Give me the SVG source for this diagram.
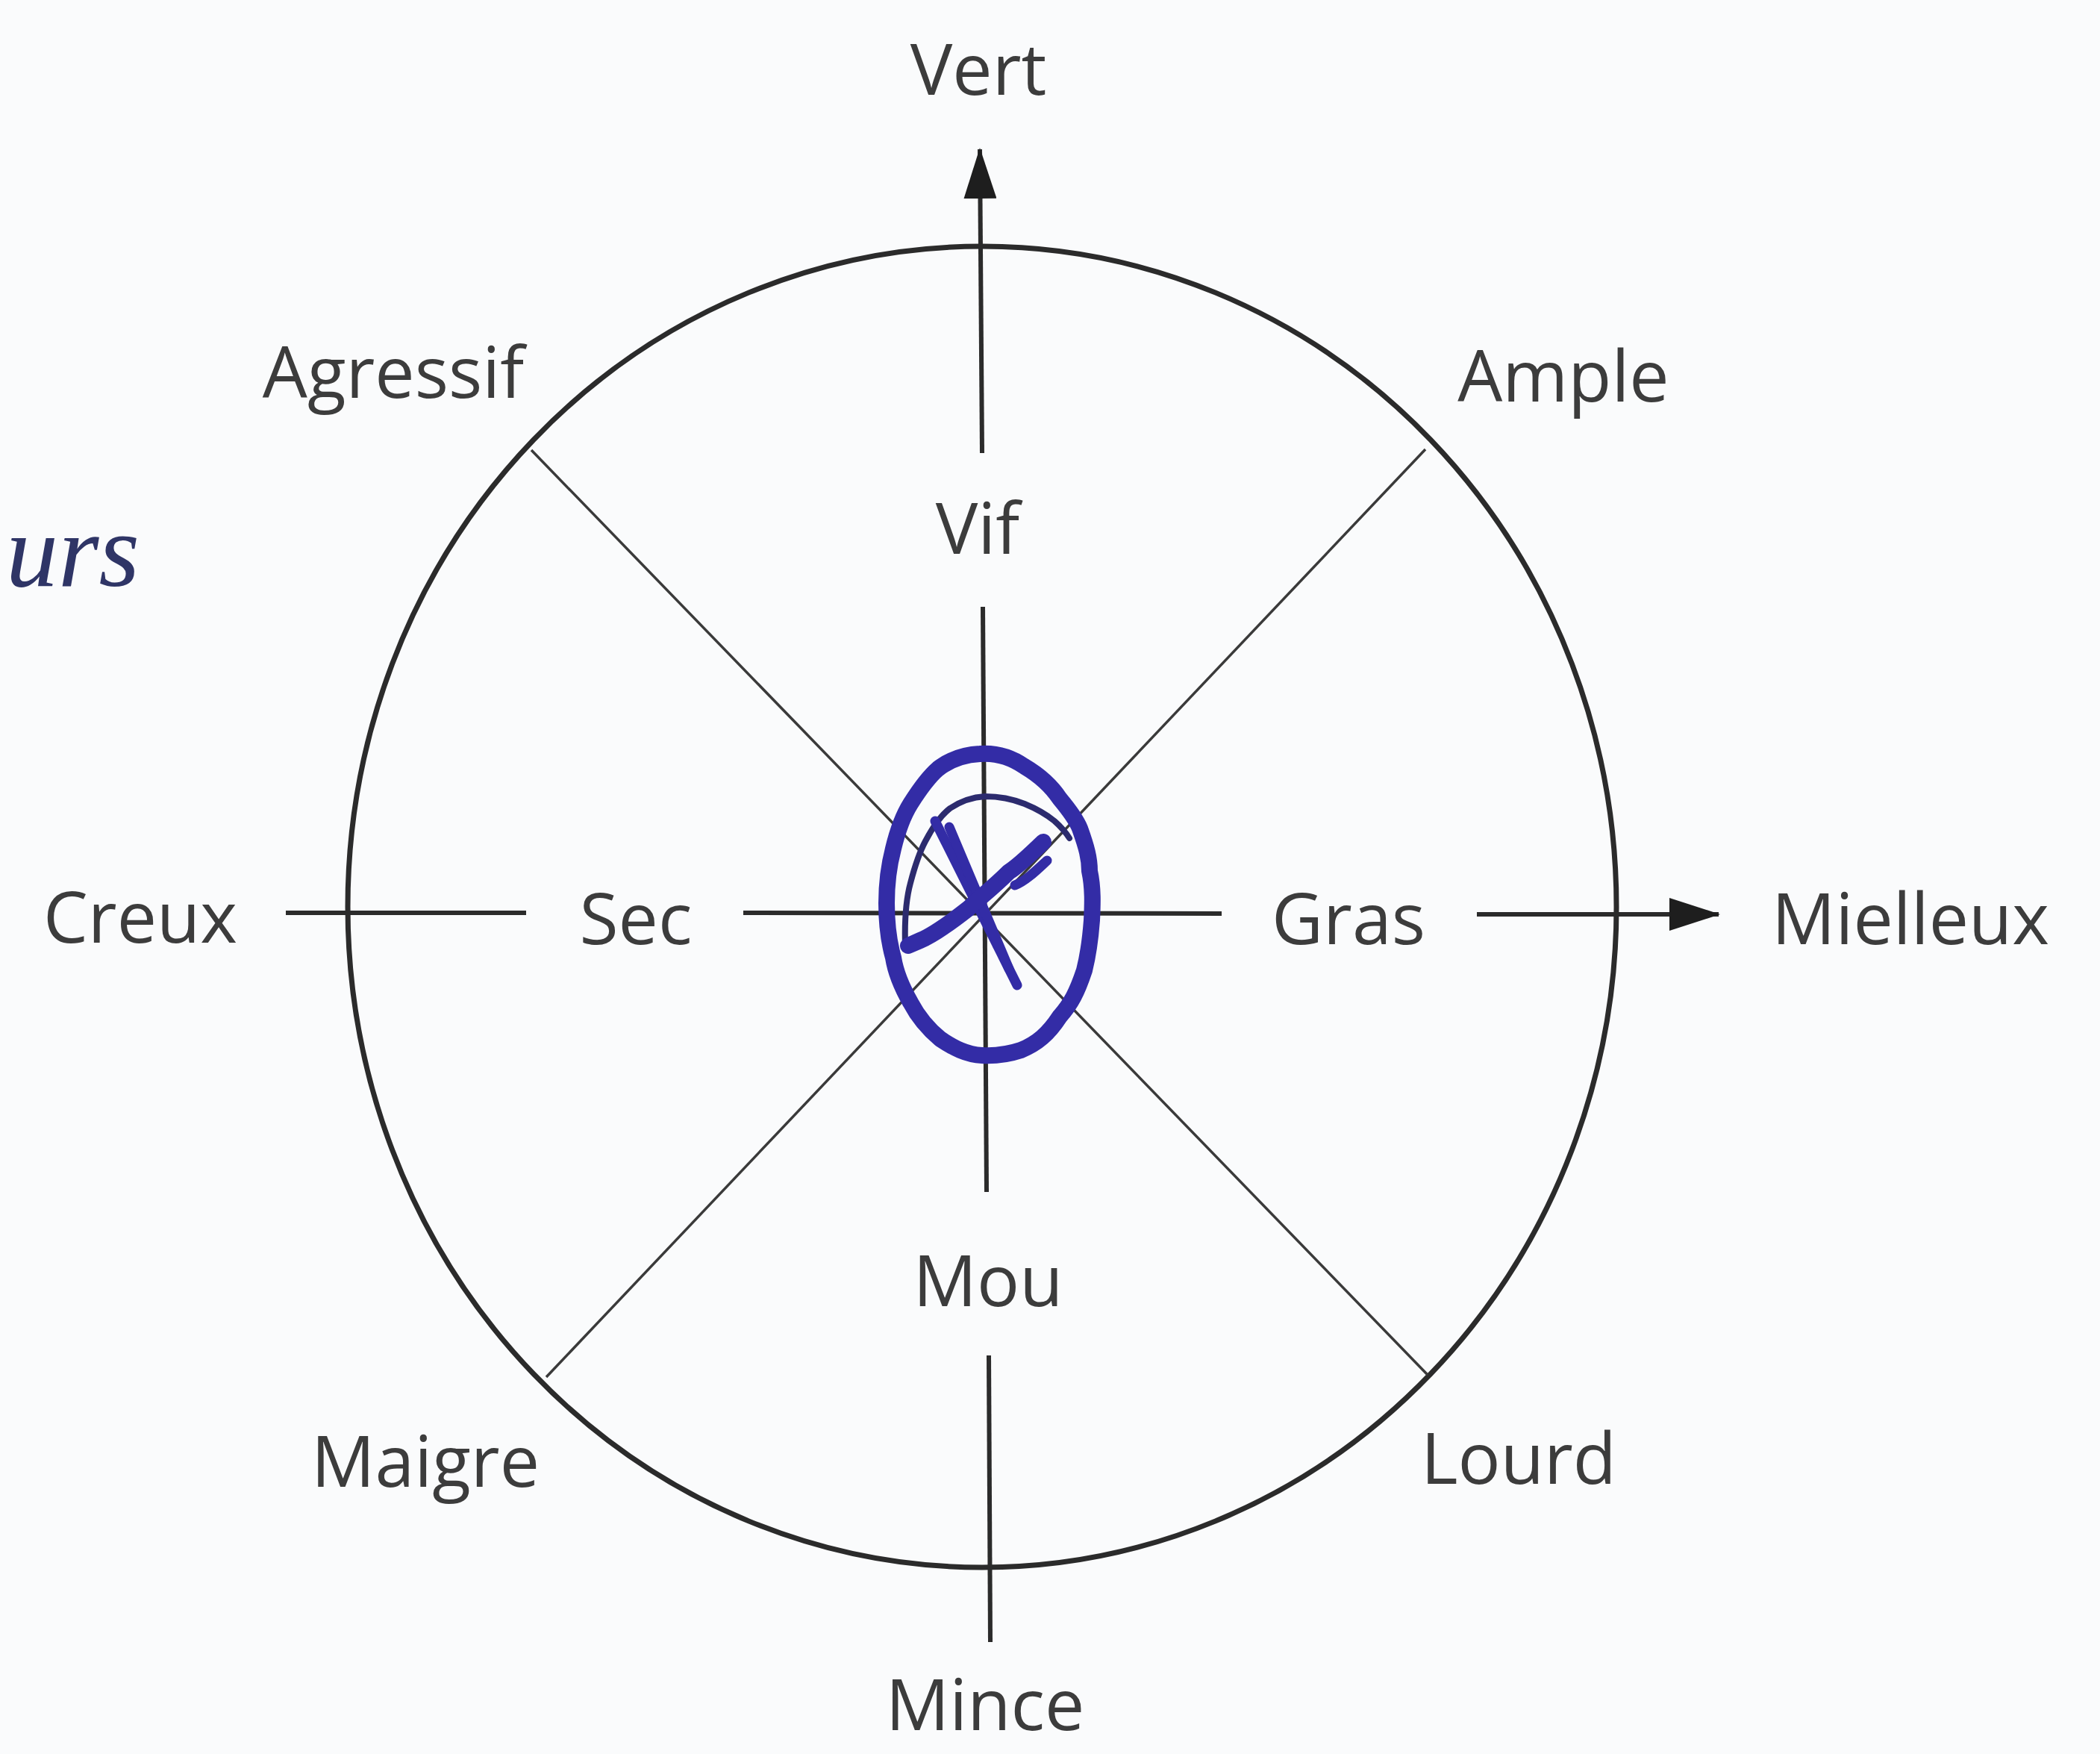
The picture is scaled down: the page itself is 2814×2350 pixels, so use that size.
<svg xmlns="http://www.w3.org/2000/svg" width="2814" height="2350" viewBox="0 0 2814 2350">
  <style>
    .lbl { font-family: "Open Sans", "Noto Sans", "Liberation Sans", sans-serif; font-size: 95px; fill: #3c3c3c; text-anchor: middle; }
    .axis { stroke: #2b2b2b; stroke-width: 6; fill: none; stroke-linecap: butt; }
    .diag { stroke: #3a3a3a; stroke-width: 3.5; fill: none; }
    .rim { stroke: #2b2b2b; stroke-width: 7; fill: none; }
    .ink { stroke: #332ca6; fill: none; stroke-linecap: round; stroke-linejoin: round; }
    .hand { font-family: "Liberation Serif", "DejaVu Serif", serif; font-style: italic; fill: #2f3566; }
  </style>
  <defs>
    <marker id="arrow" viewBox="0 0 68 44" refX="66" refY="22" markerWidth="68" markerHeight="44" markerUnits="userSpaceOnUse" orient="auto">
      <path d="M0,0 L68,22 L0,44 Z" fill="#1e1e1e"/>
    </marker>
  </defs>
  <rect x="0" y="0" width="2814" height="2350" fill="#fafbfc"/>

  <g id="outer-circle">
    <ellipse class="rim" cx="1316" cy="1215" rx="850" ry="885"/>
  </g>

  <g id="connectors">
    <line class="diag" x1="712" y1="603" x2="1913" y2="1842"/>
    <line class="diag" x1="1910" y1="602" x2="732" y2="1845"/>
    <line class="axis" x1="1316" y1="607" x2="1313" y2="200" marker-end="url(#arrow)"/>
    <line class="axis" x1="1317" y1="813" x2="1322" y2="1597"/>
    <line class="axis" x1="1325" y1="1816" x2="1327" y2="2200"/>
    <line class="axis" x1="383" y1="1223" x2="705" y2="1223"/>
    <line class="axis" x1="996" y1="1223" x2="1637" y2="1224"/>
    <line class="axis" x1="1979" y1="1225" x2="2303" y2="1225" marker-end="url(#arrow)"/>
  </g>

  <g id="center-mark">
    <path class="ink" stroke-width="22" d="M1313,1010 C1340,1008 1360,1018 1373,1027 C1395,1040 1410,1055 1420,1070 C1435,1088 1443,1100 1447,1110 C1456,1135 1460,1150 1460,1167 C1465,1190 1464,1212 1463,1233 C1461,1260 1458,1280 1453,1300 C1443,1330 1435,1345 1420,1362 C1405,1385 1390,1398 1368,1407 C1350,1413 1335,1415 1316,1414 C1295,1413 1278,1404 1260,1392 C1243,1378 1230,1362 1220,1343 C1208,1322 1200,1302 1197,1283 C1190,1258 1188,1235 1188,1210 C1188,1185 1191,1160 1197,1137 C1203,1112 1210,1093 1220,1077 C1232,1058 1243,1042 1257,1030 C1275,1016 1293,1011 1313,1010 Z"/>
    <path fill="none" stroke="#2c2b6e" stroke-width="8" stroke-linecap="round" d="M1213,1267 C1212,1235 1214,1205 1220,1183 C1226,1160 1232,1142 1240,1127 C1250,1108 1260,1093 1273,1083 C1288,1073 1303,1068 1320,1067 C1340,1067 1358,1071 1373,1077 C1390,1084 1402,1091 1413,1100 C1422,1108 1428,1115 1433,1123"/>
    <path class="ink" stroke-width="13" d="M1253,1100 L1363,1320"/>
    <path class="ink" stroke-width="13" d="M1272,1108 L1352,1298"/>
    <path class="ink" stroke-width="22" d="M1398,1128 C1380,1145 1365,1160 1352,1168 C1330,1190 1310,1205 1298,1217 C1275,1235 1252,1252 1233,1260 L1217,1267"/>
    <path class="ink" stroke-width="13" d="M1403,1153 C1390,1165 1375,1180 1360,1186"/>
  </g>

  <g id="label-vert"><text class="lbl" x="1311" y="127">Vert</text></g>
  <g id="label-agressif"><text class="lbl" x="527" y="533">Agressif</text></g>
  <g id="label-ample"><text class="lbl" x="2095" y="538">Ample</text></g>
  <g id="label-vif"><text class="lbl" x="1310" y="742">Vif</text></g>
  <g id="label-creux"><text class="lbl" x="188" y="1263">Creux</text></g>
  <g id="label-sec"><text class="lbl" x="852" y="1265">Sec</text></g>
  <g id="label-gras"><text class="lbl" x="1807" y="1265">Gras</text></g>
  <g id="label-mielleux"><text class="lbl" x="2560" y="1265">Mielleux</text></g>
  <g id="label-mou"><text class="lbl" x="1324" y="1750">Mou</text></g>
  <g id="label-maigre"><text class="lbl" x="570" y="1992">Maigre</text></g>
  <g id="label-lourd"><text class="lbl" x="2035" y="1988">Lourd</text></g>
  <g id="label-mince"><text class="lbl" x="1320" y="2318">Mince</text></g>

  <g id="handwriting">
    <text class="hand" x="8" y="785" font-size="140">urs</text>
  </g>
</svg>
